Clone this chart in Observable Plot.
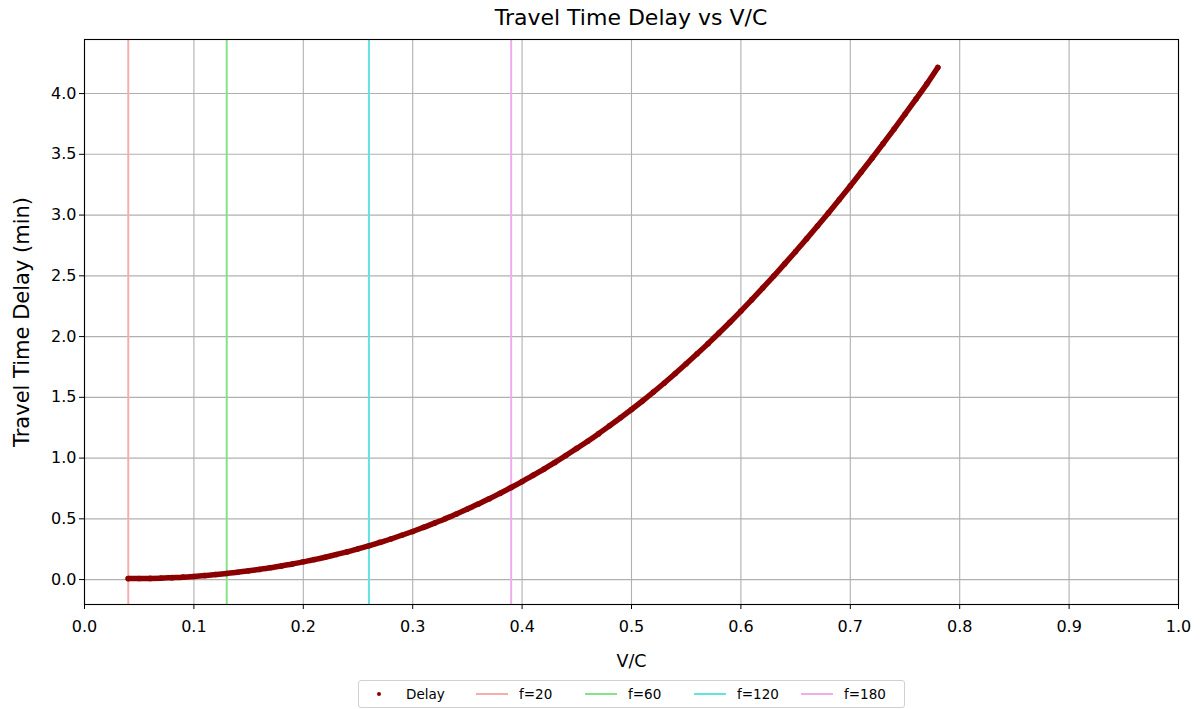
<!DOCTYPE html>
<html>
<head>
<meta charset="utf-8">
<script src="https://cdn.jsdelivr.net/npm/d3@7"></script>
<script src="https://cdn.jsdelivr.net/npm/@observablehq/plot@0.6"></script>
<style>
  html, body { margin: 0; padding: 0; background: #fff; }
  body { width: 1201px; height: 709px; overflow: hidden; font-family: "DejaVu Sans", sans-serif; color: #000; position: relative; }
  #chart { position: absolute; left: 0; top: 0; }
  #title { position: absolute; left: 84px; width: 1094px; top: 5px; text-align: center; font-size: 22px; z-index: 2; }
  #chart g[aria-label="x-axis label"] text { font-size: 17.5px; }
  #chart g[aria-label="y-axis label"] text { font-size: 21px; }
  #legend { position: absolute; top: 680px; left: 358px; width: 547px; height: 28px; border: 1px solid #d0d0d0; border-radius: 3px;
            font-size: 13.5px; box-sizing: border-box; z-index: 2; background: #fff; }
  .item { display: flex; align-items: center; position: absolute; top: 0; height: 26px; }
  .sw-line { display: inline-block; width: 32px; height: 2px; margin-right: 11px; }
  .sw-dot { display: inline-block; width: 4px; height: 4px; border-radius: 50%; background: #8b0000; margin-right: 25px; }
</style>
</head>
<body>
<div id="chart"></div>
<div id="title">Travel Time Delay vs V/C</div>
<div id="legend"></div>
<script>
// Sampled volume-to-capacity ratios and the resulting delay (minutes)
const vc = [
  0.04, 0.05, 0.06, 0.07, 0.08, 0.09, 0.10, 0.11, 0.12, 0.13,
  0.14, 0.15, 0.16, 0.17, 0.18, 0.19, 0.20, 0.21, 0.22, 0.23,
  0.24, 0.25, 0.26, 0.27, 0.28, 0.29, 0.30, 0.31, 0.32, 0.33,
  0.34, 0.35, 0.36, 0.37, 0.38, 0.39, 0.40, 0.41, 0.42, 0.43,
  0.44, 0.45, 0.46, 0.47, 0.48, 0.49, 0.50, 0.51, 0.52, 0.53,
  0.54, 0.55, 0.56, 0.57, 0.58, 0.59, 0.60, 0.61, 0.62, 0.63,
  0.64, 0.65, 0.66, 0.67, 0.68, 0.69, 0.70, 0.71, 0.72, 0.73,
  0.74, 0.75, 0.76, 0.77, 0.78
];
const delay = [
  0.008, 0.009, 0.010, 0.012, 0.016, 0.020, 0.026, 0.033, 0.041, 0.050,
  0.060, 0.072, 0.084, 0.097, 0.112, 0.128, 0.146, 0.164, 0.184, 0.206,
  0.228, 0.253, 0.278, 0.306, 0.334, 0.365, 0.396, 0.430, 0.465, 0.502,
  0.540, 0.580, 0.622, 0.665, 0.711, 0.758, 0.807, 0.858, 0.910, 0.964,
  1.021, 1.080, 1.139, 1.201, 1.266, 1.332, 1.400, 1.470, 1.543, 1.618,
  1.696, 1.776, 1.858, 1.942, 2.029, 2.118, 2.210, 2.304, 2.400, 2.498,
  2.598, 2.700, 2.804, 2.910, 3.018, 3.128, 3.240, 3.354, 3.470, 3.588,
  3.708, 3.830, 3.954, 4.080, 4.215
];

// Reference V/C levels for each frequency
const freqLabels = ["f=20", "f=60", "f=120", "f=180"];
const freqVC = [0.04, 0.13, 0.26, 0.39];
const freqColors = ["#f5aeae", "#86e286", "#62e2e2", "#eeaeee"];

const xTicks = [0, 0.1, 0.2, 0.3, 0.4, 0.5, 0.6, 0.7, 0.8, 0.9, 1.0];
const yTicks = [0, 0.5, 1.0, 1.5, 2.0, 2.5, 3.0, 3.5, 4.0];

const points = vc.map((v, i) => ({vc: v, delay: delay[i]}));
const refs = freqVC.map((v, i) => ({vc: v, label: freqLabels[i], color: freqColors[i]}));

const chart = Plot.plot({
  width: 1201,
  height: 672,
  marginTop: 39,
  marginBottom: 68,
  marginLeft: 84,
  marginRight: 23,
  style: {fontFamily: "DejaVu Sans, sans-serif", fontSize: "16px", color: "#000", background: "#fff"},
  x: {domain: [0, 1]},
  y: {domain: [-0.205, 4.445]},
  marks: [
    Plot.gridX(xTicks, {stroke: "#b0b0b0", strokeOpacity: 1, strokeWidth: 1.1}),
    Plot.gridY(yTicks, {stroke: "#b0b0b0", strokeOpacity: 1, strokeWidth: 1.1}),
    Plot.axisX({ticks: xTicks, tickFormat: d3.format(".1f"), tickSize: 5, tickPadding: 11,
                label: "V/C", labelAnchor: "center", labelArrow: "none", labelOffset: 62}),
    Plot.axisY({ticks: yTicks, tickFormat: d3.format(".1f"), tickSize: 5, tickPadding: 3,
                label: "Travel Time Delay (min)", labelAnchor: "center", labelArrow: "none", labelOffset: 70}),
    Plot.ruleX(refs, {x: "vc", stroke: "color", strokeWidth: 2}),
    Plot.line(points, {x: "vc", y: "delay", stroke: "#8b0000", strokeWidth: 5.5, curve: "catmull-rom"}),
    Plot.dot(points, {x: "vc", y: "delay", r: 2.8, fill: "#8b0000", stroke: "none"}),
    Plot.frame({stroke: "#000", strokeWidth: 1.1})
  ]
});
document.getElementById("chart").appendChild(chart);

// Legend below the plot
const legend = document.getElementById("legend");
const items = [
  {label: "Delay", kind: "dot", left: 18},
  ...freqLabels.map((l, i) => ({label: l, kind: "line", color: freqColors[i], left: [117, 226, 335, 442][i]}))
];
for (const it of items) {
  const el = document.createElement("div");
  el.className = "item";
  el.style.left = it.left + "px";
  const sw = document.createElement("span");
  if (it.kind === "dot") {
    sw.className = "sw-dot";
  } else {
    sw.className = "sw-line";
    sw.style.background = it.color;
  }
  el.appendChild(sw);
  el.appendChild(document.createTextNode(it.label));
  legend.appendChild(el);
}
</script>
</body>
</html>
